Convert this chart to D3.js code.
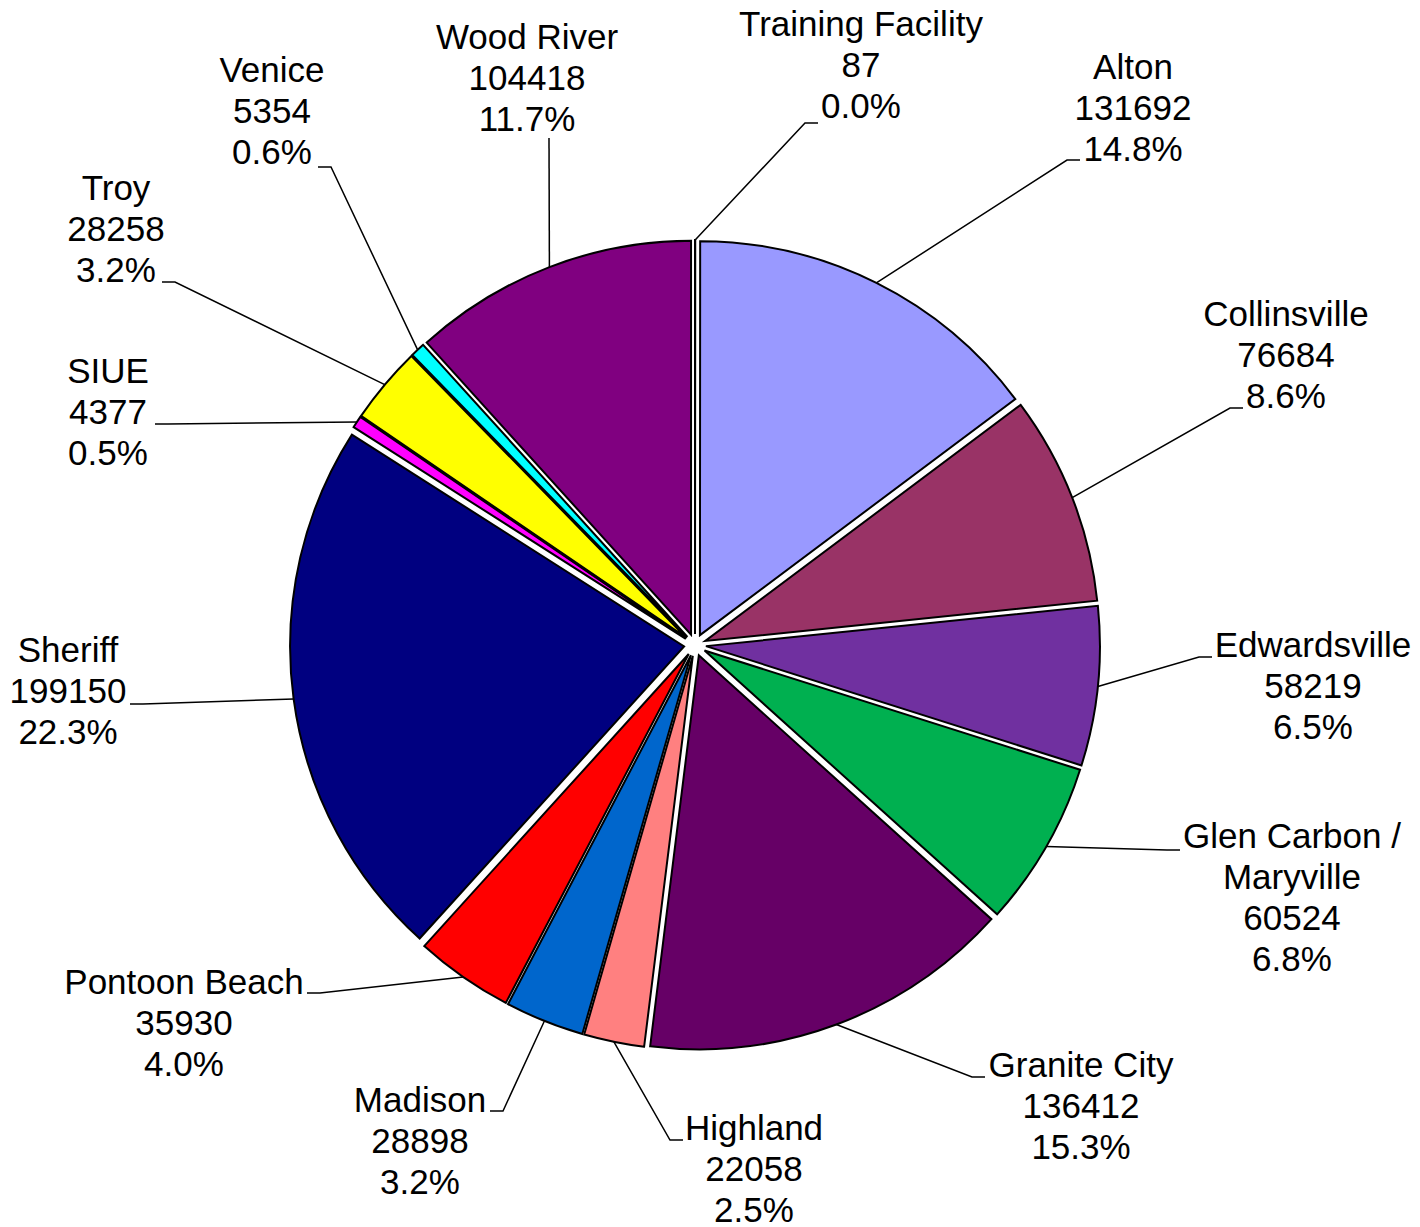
<!DOCTYPE html>
<html>
<head>
<meta charset="utf-8">
<script src="https://cdn.jsdelivr.net/npm/d3@7"></script>
<style>
  html, body { margin: 0; padding: 0; background: #fff; }
  svg { display: block; }
</style>
</head>
<body>
<script>
// slice data, clockwise from 12 o'clock
var names = ["Training Facility", "Alton", "Collinsville", "Edwardsville", "Glen Carbon / Maryville",
  "Granite City", "Highland", "Madison", "Pontoon Beach", "Sheriff", "SIUE", "Troy", "Venice", "Wood River"];
var values = [87, 131692, 76684, 58219, 60524, 136412, 22058, 28898, 35930, 199150, 4377, 28258, 5354, 104418];
var colors = ["#ffffff", "#9999ff", "#993366", "#7030a0", "#00b050", "#660066", "#ff8080",
  "#0066cc", "#ff0000", "#000080", "#ff00ff", "#ffff00", "#00ffff", "#800080"];
// how each label's name is broken over lines
var nameLines = [["Training Facility"], ["Alton"], ["Collinsville"], ["Edwardsville"], ["Glen Carbon /", "Maryville"],
  ["Granite City"], ["Highland"], ["Madison"], ["Pontoon Beach"], ["Sheriff"], ["SIUE"], ["Troy"], ["Venice"], ["Wood River"]];

// label layout: text centre x, first line y, leader end (ex,ey), stub direction
var labelPos = [
  {x: 861, y: 24, ex: 818, ey: 123, dir: 1},
  {x: 1133, y: 67, ex: 1080, ey: 160, dir: 1},
  {x: 1286, y: 314, ex: 1243, ey: 408, dir: 1},
  {x: 1313, y: 645, ex: 1212, ey: 657, dir: 1},
  {x: 1292, y: 836, ex: 1180, ey: 850, dir: 1},
  {x: 1081, y: 1065, ex: 985, ey: 1077, dir: 1},
  {x: 754, y: 1128, ex: 683, ey: 1140, dir: 1},
  {x: 420, y: 1100, ex: 490, ey: 1111, dir: -1},
  {x: 184, y: 982, ex: 307, ey: 993, dir: -1},
  {x: 68, y: 650, ex: 130, ey: 704, dir: -1},
  {x: 108, y: 371, ex: 155, ey: 424, dir: -1},
  {x: 116, y: 188, ex: 162, ey: 282, dir: -1},
  {x: 272, y: 70, ex: 318, ey: 167, dir: -1},
  {x: 527, y: 37, ex: 549, ey: 138, dir: 0}
];

var width = 1420, height = 1227;
var cx = 695, cy = 645, R = 394, explode = 11;
var lineH = 41, stub = 13;

var svg = d3.select("body").append("svg")
  .attr("width", width).attr("height", height);

var total = d3.sum(values);
var pct = d3.format(".1%");

var data = names.map(function (n, i) {
  return {name: n, value: values[i], color: colors[i], lines: nameLines[i], pos: labelPos[i]};
});

var pie = d3.pie().sort(null).value(function (d) { return d.value; });
var arc = d3.arc().innerRadius(0).outerRadius(R);
var arcs = pie(data);

var g = svg.append("g").attr("transform", "translate(" + cx + "," + cy + ")");

g.selectAll("path.slice")
  .data(arcs)
  .enter().append("path")
  .attr("class", "slice")
  .attr("transform", function (d) {
    var a = (d.startAngle + d.endAngle) / 2;
    return "translate(" + (explode * Math.sin(a)) + "," + (-explode * Math.cos(a)) + ")";
  })
  .attr("d", arc)
  .style("fill", function (d) { return d.data.color; })
  .style("stroke", "#000")
  .style("stroke-width", 2)
  .style("stroke-linejoin", "miter");

// leader lines
svg.selectAll("path.leader")
  .data(arcs)
  .enter().append("path")
  .attr("class", "leader")
  .attr("d", function (d) {
    var a = (d.startAngle + d.endAngle) / 2;
    var r = R + explode;
    var sx = cx + r * Math.sin(a), sy = cy - r * Math.cos(a);
    var p = d.data.pos;
    var bx = p.ex - p.dir * stub;
    return "M" + sx + "," + sy + "L" + bx + "," + p.ey + "L" + p.ex + "," + p.ey;
  })
  .style("fill", "none")
  .style("stroke", "#000")
  .style("stroke-width", 1.5);

// labels
var labels = svg.selectAll("text.lbl")
  .data(arcs)
  .enter().append("text")
  .attr("class", "lbl")
  .attr("text-anchor", "middle")
  .style("font-family", "'Liberation Sans', Arial, sans-serif")
  .style("font-size", "35px")
  .style("fill", "#000");

labels.each(function (d) {
  var t = d3.select(this);
  var lines = d.data.lines.concat([String(d.data.value), pct(d.data.value / total)]);
  lines.forEach(function (s, k) {
    t.append("tspan")
      .attr("x", d.data.pos.x)
      .attr("y", d.data.pos.y + k * lineH)
      .attr("dy", "0.35em")
      .text(s);
  });
});
</script>
</body>
</html>
